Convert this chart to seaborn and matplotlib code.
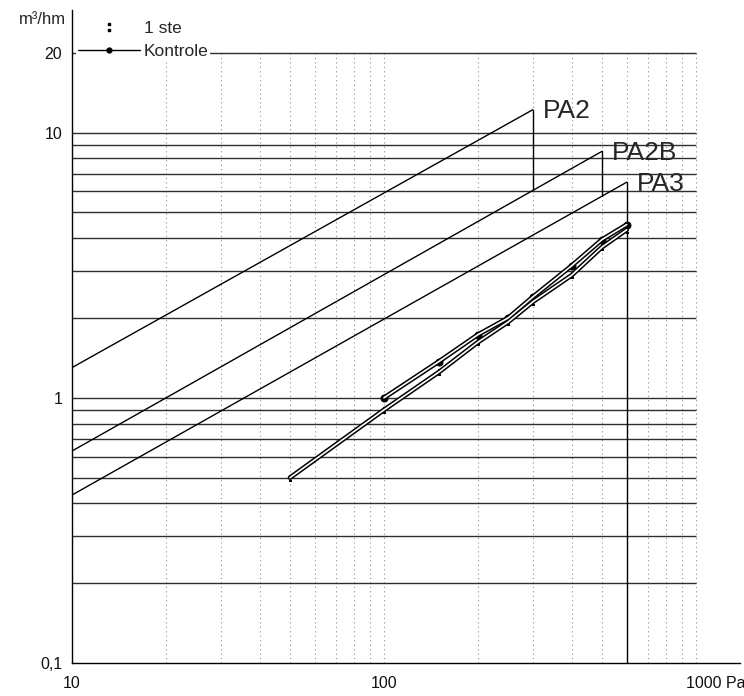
import numpy as np
import pandas as pd
import seaborn as sns
import matplotlib.pyplot as plt
import matplotlib.transforms as mtransforms
from matplotlib.lines import Line2D

# measured air flow (m3/hm) against pressure difference (Pa)
ste_p = [50, 100, 150, 200, 250, 300, 400, 500, 600]
ste_q = [0.50, 0.90, 1.25, 1.62, 1.93, 2.30, 2.90, 3.70, 4.30]
kon_p = [100, 150, 200, 250, 300, 400, 500, 600]
kon_q = [1.00, 1.37, 1.73, 2.00, 2.40, 3.15, 3.95, 4.50]

# class limit lines
pa_names = ['PA2', 'PA2B', 'PA3']
pa_p_start = [10, 10, 10]
pa_p_end = [300, 500, 600]
pa_q_start = [1.30, 0.63, 0.43]
pa_q_end = [12.2, 8.5, 6.5]

q_min = 0.1

sns.set_style('white')
plt.rcParams['font.family'] = ['Liberation Sans', 'DejaVu Sans']

# limit lines as a long table
pa_df = pd.DataFrame({
    'name': np.repeat(pa_names, 2),
    'p': np.ravel(np.column_stack([pa_p_start, pa_p_end])),
    'q': np.ravel(np.column_stack([pa_q_start, pa_q_end])),
})

# vertical drop from the end of each line down to the next line (last one to the axis)
drop_rows = []
for i, name in enumerate(pa_names):
    if i + 1 < len(pa_names):
        lp = np.log10([pa_p_start[i + 1], pa_p_end[i + 1]])
        lq = np.log10([pa_q_start[i + 1], pa_q_end[i + 1]])
        q_low = 10 ** np.interp(np.log10(pa_p_end[i]), lp, lq)
    else:
        q_low = q_min
    drop_rows.append((name, pa_p_end[i], pa_q_end[i]))
    drop_rows.append((name, pa_p_end[i], q_low))
drop_df = pd.DataFrame(drop_rows, columns=['name', 'p', 'q'])

fig = plt.figure(figsize=(7.44, 6.96), dpi=100)
ax = fig.add_axes([72 / 744, 33 / 696, 668 / 744, 653 / 696])
ax.set_xscale('log')
ax.set_yscale('log')
ax.set_xlim(10, 1385)
ax.set_ylim(0.1, 29)

# paper grid
grid_x = np.concatenate([np.arange(20, 100, 10), np.arange(100, 1001, 100)])
grid_y = np.concatenate([np.arange(0.2, 0.95, 0.1), np.arange(1, 10, 1), [10, 20]])
ax.vlines(grid_x, 0.1, 20, colors='#8c8c8c', linestyles=(0, (1, 3)), lw=0.8, zorder=1)
ax.hlines(grid_y, 10, 1000, colors='#2e2e2e', lw=1.0, zorder=1)

sns.lineplot(data=pa_df, x='p', y='q', units='name', estimator=None, sort=False,
             color='black', lw=1.0, ax=ax, legend=False)
sns.lineplot(data=drop_df, x='p', y='q', units='name', estimator=None, sort=False,
             color='black', lw=1.0, ax=ax, legend=False)

for name, p, q in zip(pa_names, pa_p_end, pa_q_end):
    ax.annotate(name, (p, q), xytext=(7, -1), textcoords='offset points',
                ha='left', va='center', fontsize=19)

# measured curves, drawn as hollow double strokes like the scan
for p, q, mk in [(ste_p, ste_q, '$:$'), (kon_p, kon_q, 'o')]:
    sns.lineplot(x=p, y=q, color='black', lw=3.4, marker=mk, markersize=5,
                 markeredgecolor='black', ax=ax, sort=False, zorder=3)
    sns.lineplot(x=p, y=q, color='white', lw=1.2, ax=ax, sort=False, zorder=4)

ax.set_xticks([10, 100, 1000])
ax.set_xticklabels(['10', '100', '1000 Pa'])
ax.set_xticks([], minor=True)
ax.set_yticks([0.1, 1, 10, 20])
ax.set_yticklabels(['0,1', '1', '10', '20'])
ax.set_yticks([], minor=True)
ax.tick_params(length=0, labelsize=11.5, colors='#111111')
ax.tick_params(axis='x', pad=9)
ax.tick_params(axis='y', pad=7)
last = ax.get_xticklabels()[-1]
last.set_horizontalalignment('left')
last.set_transform(last.get_transform() + mtransforms.ScaledTranslation(-10 / 100, 0, fig.dpi_scale_trans))
ax.set_xlabel('')
ax.set_ylabel('')

for side in ['top', 'right']:
    ax.spines[side].set_visible(False)
for side in ['left', 'bottom']:
    ax.spines[side].set_color('black')
    ax.spines[side].set_linewidth(1.0)

fig.text(66 / 744, 1 - 20 / 696, 'm³/hm', ha='right', va='center', fontsize=12)

handles = [
    Line2D([], [], color='none', marker='$:$', markersize=6, markeredgecolor='black',
           markerfacecolor='black'),
    Line2D([], [], color='black', lw=1.0, marker='o', markersize=3.5),
]
leg = ax.legend(handles, ['1 ste', 'Kontrole'], loc='center left',
                bbox_to_anchor=(76 / 744, 1 - 40 / 696), bbox_transform=fig.transFigure,
                fontsize=12.5, frameon=True, framealpha=1, facecolor='white',
                edgecolor='none', fancybox=False, borderpad=0.1, borderaxespad=0,
                handlelength=3.6, handletextpad=0.2, labelspacing=0.5)

fig.savefig('out.png', dpi=100)
